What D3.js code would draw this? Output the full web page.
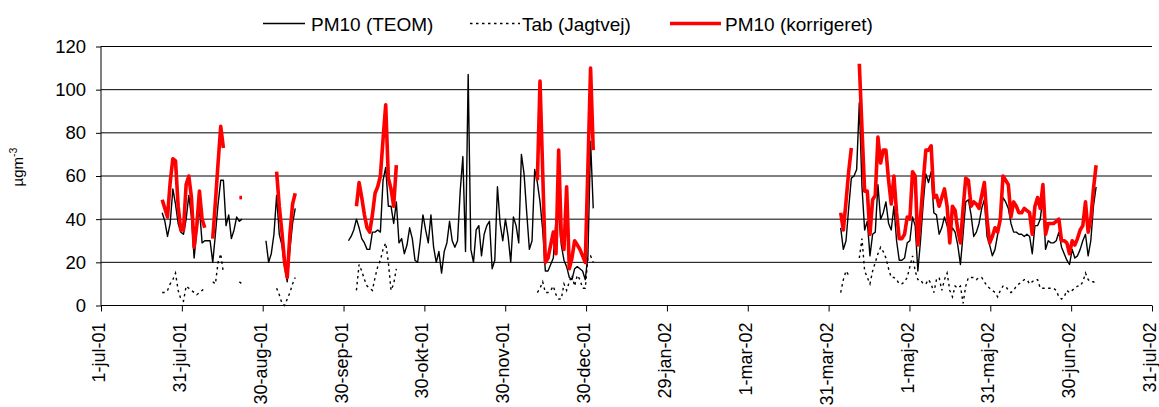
<!DOCTYPE html>
<html>
<head>
<meta charset="utf-8">
<script src="https://cdn.jsdelivr.net/npm/d3@7"></script>
<style>
  body { margin: 0; background: #fff; }
  svg { display: block; font-family: "Liberation Sans", Arial, sans-serif; }
</style>
</head>
<body>
<svg id="chart" width="1159" height="407"></svg>
<script>
// Daily PM10 series, stored as runs of consecutive days (gaps = missing data).
const teomStarts = ["2001-07-24", "2001-09-01", "2001-10-02", "2002-04-05"];
const teomValues = [
  [43, 39, 32, 38, 54, 47, 38, 34, 33, 40, 51, 41, 22, 35, 45, 29, 30, 30, 30, 20,
   33, 47, 58, 58, 37, 42, 31, 35, 41, 39, 40],
  [30, 20, 24, 33, 51, 33, 28, 18, 11, 26, 38, 45],
  [30, 32, 35, 40, 36, 31, 29, 26, 26, 34,
   34, 35, 34, 58, 64, 46, 46, 38, 48, 29,
   31, 24, 28, 36, 31, 21, 20, 30, 42, 35,
   29, 42, 27, 20, 25, 15, 25, 29, 39, 30,
   27, 30, 53, 69, 25, 107, 26, 20, 35, 37,
   23, 33, 37, 39, 17, 21, 55, 38, 30, 40,
   32, 20, 41, 37, 29, 70, 61, 43, 26, 30,
   63, 57, 48, 35, 16, 16, 19, 22, 40, 43,
   28, 21, 18, 13, 12, 17, 18, 17, 16, 12,
   23, 76, 45],
  [36, 26, 30, 45, 59, 60, 63, 94, 55, 35,
   39, 23, 33, 34, 56, 40, 43, 48, 38, 35,
   46, 30, 21, 21, 22, 29, 30, 41, 37, 16,
   30, 47, 61, 57, 62, 43, 42, 33, 36, 41,
   37, 32, 36, 34, 28, 19, 33, 48, 49, 42,
   32, 34, 38, 45, 49, 32, 28, 23, 26, 33,
   40, 50, 48, 45, 38, 34, 34, 33, 33, 32,
   33, 32, 24, 37, 37, 40, 50, 26, 30, 29,
   29, 30, 34, 27, 24, 21, 19, 26, 22, 23,
   26, 30, 33, 23, 30, 46, 55]
];

// Jagtvej (Tab) and corrected PM10 share the same days.
const corrStarts = ["2001-07-24", "2001-08-12", "2001-08-22", "2001-09-05",
                    "2001-10-05", "2001-12-12", "2002-04-05", "2002-04-12"];
const tabValues = [
  [6, 6, 7, 10, 12, 15, 7, 3, 2, 9, 8, 7, 6, 5, 6, 7, 8],
  [11, 10, 20, 24, 15],
  [11, 10],
  [8, 5, 1, 0, 3, 6, 10, 13],
  [7, 19, 16, 12, 9, 8, 7, 13, 18, 21, 26, 29, 20, 7, 10, 17],
  [6, 8, 11, 6, 6, 7, 9, 5, 3, 3, 10, 7, 11, 14, 9, 14, 12, 8, 8, 22, 23, 20],
  [6, 12, 16, 14, 14],
  [22, 31, 16, 13, 10, 16, 20, 24, 27, 25,
   22, 17, 13, 13, 12, 10, 10, 11, 13, 18,
   23, 16, 12, 12, 10, 10, 12, 10, 6, 12,
   13, 7, 12, 15, 7, 4, 9, 8, 9, 1,
   9, 13, 13, 13, 12, 13, 13, 11, 9, 8,
   7, 6, 4, 7, 9, 9, 7, 6, 7, 9,
   10, 11, 12, 12, 10, 11, 12, 12, 8, 8,
   8, 8, 8, 8, 7, 4, 3, 4, 7, 6,
   7, 8, 9, 9, 11, 15, 12, 11, 11, 10]
];
const corrValues = [
  [49, 45, 41, 57, 68, 67, 46, 35, 35, 56, 60, 50, 27, 37, 53, 40, 36],
  [31, 48, 66, 83, 73],
  [50, 50],
  [62, 46, 34, 20, 13, 33, 47, 52],
  [46, 57, 50, 42, 36, 34, 42, 52, 55, 60, 77, 93, 59, 54, 46, 65],
  [58, 104, 62, 20, 22, 28, 34, 24, 72, 32, 26, 55, 17, 22, 30, 28, 26, 23, 20, 64, 110, 72],
  [43, 35, 48, 62, 73],
  [112, 82, 53, 53, 33, 49, 51, 78, 66, 72,
   72, 58, 47, 60, 43, 31, 31, 33, 41, 40,
   62, 60, 28, 41, 57, 72, 72, 74, 50, 51,
   46, 50, 54, 46, 29, 46, 44, 35, 29, 45,
   59, 58, 46, 48, 47, 45, 51, 57, 40, 29,
   32, 36, 34, 40, 60, 58, 56, 41, 48, 46,
   43, 43, 45, 44, 43, 33, 46, 50, 45, 56,
   33, 38, 38, 38, 39, 40, 30, 30, 29, 24,
   30, 28, 31, 35, 37, 48, 34, 40, 54, 65]
];

const axisStart = "2001-07-01";
const axisEnd = "2002-07-31";
const tickLabels = ["1-jul-01", "31-jul-01", "30-aug-01", "30-sep-01", "30-okt-01",
  "30-nov-01", "30-dec-01", "29-jan-02", "1-mar-02", "31-mar-02", "1-maj-02",
  "31-maj-02", "30-jun-02", "31-jul-02"];
const yTicks = [0, 20, 40, 60, 80, 100, 120];
const seriesNames = ["PM10 (TEOM)", "Tab (Jagtvej)", "PM10 (korrigeret)"];

// ---- drawing ----
const parse = d3.utcParse("%Y-%m-%d");
const svg = d3.select("#chart");
const plotLeft = 101, plotRight = 1152, plotTop = 46.5, plotBottom = 305.5;
const font = "Liberation Sans, Arial, sans-serif";

const t0 = parse(axisStart), t1 = parse(axisEnd);
const x = d3.scaleUtc().domain([t0, t1]).range([plotLeft, plotRight]);
const y = d3.scaleLinear().domain([0, 120]).range([plotBottom, plotTop]);

// horizontal gridlines
svg.append("g")
  .selectAll("line")
  .data(yTicks.filter(v => v > 0))
  .join("line")
  .attr("x1", plotLeft).attr("x2", plotRight)
  .attr("y1", d => y(d)).attr("y2", d => y(d))
  .attr("stroke", "#000").attr("stroke-width", 1);

// y axis
const yAxis = svg.append("g")
  .attr("transform", `translate(${plotLeft},0)`)
  .call(d3.axisLeft(y).tickValues(yTicks).tickSize(5).tickPadding(10).tickFormat(d3.format("d")));
yAxis.selectAll("text").attr("font-size", 18.5).attr("fill", "#000").attr("font-family", font);
yAxis.selectAll("path, line").attr("stroke", "#000");
yAxis.select(".domain").attr("d", `M0,${plotTop}V${plotBottom}`);

// x axis: major unit spans the axis in 13 equal steps
const tickDates = d3.range(tickLabels.length)
  .map(i => new Date(+t0 + i * (t1 - t0) / (tickLabels.length - 1)));
const xAxis = svg.append("g")
  .attr("transform", `translate(0,${plotBottom})`)
  .call(d3.axisBottom(x).tickValues(tickDates).tickSize(6)
    .tickFormat((d, i) => tickLabels[i]));
xAxis.selectAll("path, line").attr("stroke", "#000");
xAxis.select(".domain").attr("d", `M${plotLeft},0H${plotRight}`);
xAxis.selectAll("text")
  .attr("font-size", 18).attr("fill", "#000").attr("font-family", font)
  .attr("transform", "rotate(-90)")
  .attr("text-anchor", "end")
  .attr("x", -17).attr("y", 0).attr("dy", "0.2em");

// y axis title
const yTitle = svg.append("text")
  .attr("transform", "translate(23,167) rotate(-90)")
  .attr("text-anchor", "middle")
  .attr("font-size", 15).attr("fill", "#000").attr("font-family", font);
yTitle.append("tspan").text("µgm");
yTitle.append("tspan").attr("font-size", 10.5).attr("dy", -6).text("-3");

// series lines
const line = d3.line().x(d => x(d.date)).y(d => y(d.v));
function runs(starts, values) {
  return starts.map((s, k) => values[k].map((v, i) => ({ date: d3.utcDay.offset(parse(s), i), v })));
}
const plot = svg.append("g");
plot.selectAll(".tab").data(runs(corrStarts, tabValues)).join("path")
  .attr("class", "tab").attr("d", line).attr("fill", "none")
  .attr("stroke", "#000").attr("stroke-width", 1.4).attr("stroke-dasharray", "2.5,3.5");
plot.selectAll(".teom").data(runs(teomStarts, teomValues)).join("path")
  .attr("class", "teom").attr("d", line).attr("fill", "none")
  .attr("stroke", "#000").attr("stroke-width", 1.4).attr("stroke-linejoin", "round");
plot.selectAll(".corr").data(runs(corrStarts, corrValues)).join("path")
  .attr("class", "corr").attr("d", line).attr("fill", "none")
  .attr("stroke", "#ff0000").attr("stroke-width", 3.6).attr("stroke-linejoin", "round");

// legend
const legendItems = [
  { name: seriesNames[0], x: 263, len: 42, gap: 6, stroke: "#000", width: 1.4, dash: null },
  { name: seriesNames[1], x: 470, len: 50, gap: 2, stroke: "#000", width: 1.4, dash: "2.5,3.5" },
  { name: seriesNames[2], x: 670, len: 51, gap: 4, stroke: "#ff0000", width: 3.6, dash: null }
];
const lg = svg.append("g").selectAll("g").data(legendItems).join("g")
  .attr("transform", d => `translate(${d.x},23.5)`);
lg.append("line").attr("x1", 0).attr("x2", d => d.len).attr("y1", 0).attr("y2", 0)
  .attr("stroke", d => d.stroke).attr("stroke-width", d => d.width)
  .attr("stroke-dasharray", d => d.dash);
lg.append("text").attr("x", d => d.len + d.gap).attr("y", 7)
  .attr("font-size", 19).attr("fill", "#000").attr("font-family", font)
  .text(d => d.name);
</script>
</body>
</html>
